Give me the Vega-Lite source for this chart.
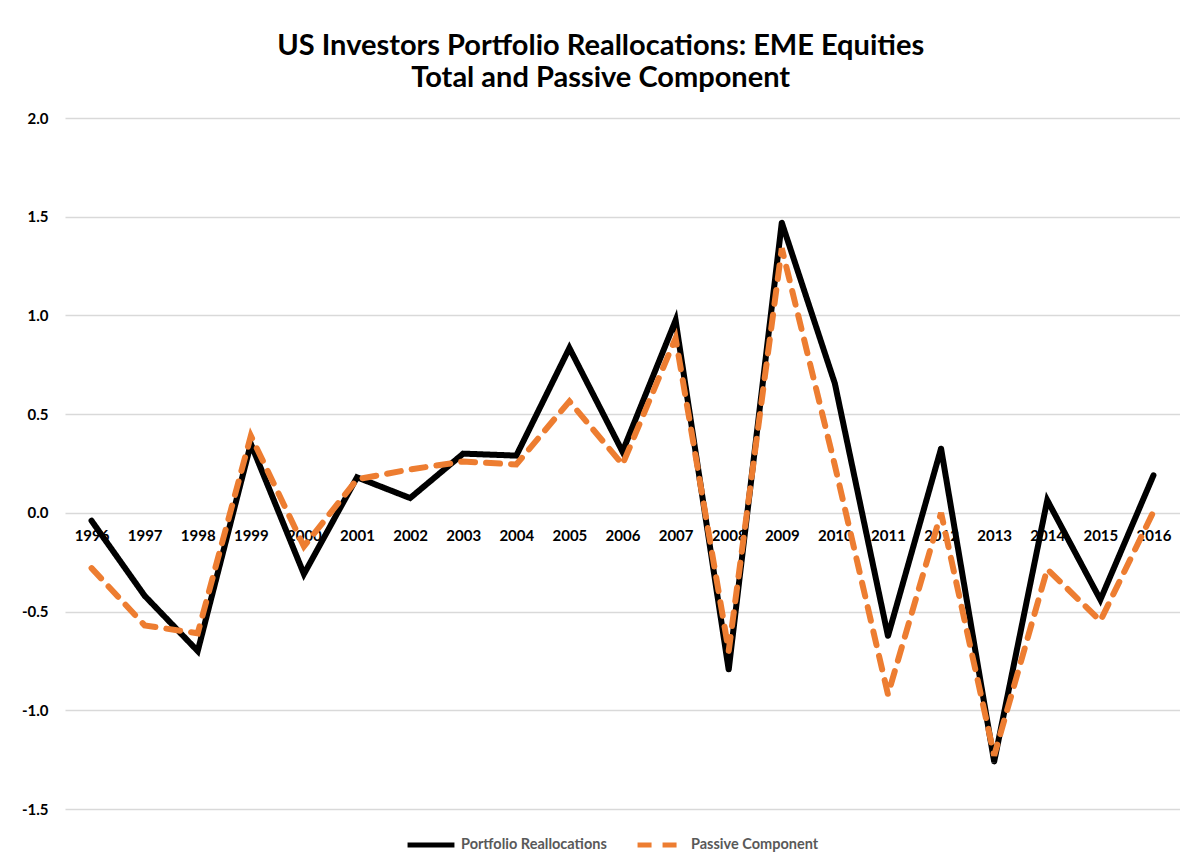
{
  "$schema": "https://vega.github.io/schema/vega-lite/v6.json",
  "width": 1115,
  "height": 691,
  "autosize": {"type": "none"},
  "padding": {"left": 65, "top": 118, "right": 0, "bottom": 57},
  "background": "white",
  "title": {
    "text": ["US Investors Portfolio Reallocations: EME Equities", "Total and Passive Component"],
    "font": "Lato",
    "fontSize": 29,
    "fontWeight": "bold",
    "color": "#000000",
    "anchor": "middle",
    "frame": "bounds",
    "lineHeight": 32,
    "offset": 18
  },
  "data": {
    "values": [
      {"year": "1996", "series": "Portfolio Reallocations", "value": -0.04},
      {"year": "1997", "series": "Portfolio Reallocations", "value": -0.42},
      {"year": "1998", "series": "Portfolio Reallocations", "value": -0.70},
      {"year": "1999", "series": "Portfolio Reallocations", "value": 0.35},
      {"year": "2000", "series": "Portfolio Reallocations", "value": -0.31},
      {"year": "2001", "series": "Portfolio Reallocations", "value": 0.18},
      {"year": "2002", "series": "Portfolio Reallocations", "value": 0.075},
      {"year": "2003", "series": "Portfolio Reallocations", "value": 0.30},
      {"year": "2004", "series": "Portfolio Reallocations", "value": 0.29},
      {"year": "2005", "series": "Portfolio Reallocations", "value": 0.835},
      {"year": "2006", "series": "Portfolio Reallocations", "value": 0.31},
      {"year": "2007", "series": "Portfolio Reallocations", "value": 0.975},
      {"year": "2008", "series": "Portfolio Reallocations", "value": -0.795},
      {"year": "2009", "series": "Portfolio Reallocations", "value": 1.47},
      {"year": "2010", "series": "Portfolio Reallocations", "value": 0.655},
      {"year": "2011", "series": "Portfolio Reallocations", "value": -0.624},
      {"year": "2012", "series": "Portfolio Reallocations", "value": 0.326},
      {"year": "2013", "series": "Portfolio Reallocations", "value": -1.26},
      {"year": "2014", "series": "Portfolio Reallocations", "value": 0.064},
      {"year": "2015", "series": "Portfolio Reallocations", "value": -0.44},
      {"year": "2016", "series": "Portfolio Reallocations", "value": 0.19},
      {"year": "1996", "series": "Passive Component", "value": -0.28},
      {"year": "1997", "series": "Passive Component", "value": -0.57},
      {"year": "1998", "series": "Passive Component", "value": -0.61},
      {"year": "1999", "series": "Passive Component", "value": 0.39},
      {"year": "2000", "series": "Passive Component", "value": -0.17},
      {"year": "2001", "series": "Passive Component", "value": 0.17},
      {"year": "2002", "series": "Passive Component", "value": 0.22},
      {"year": "2003", "series": "Passive Component", "value": 0.26},
      {"year": "2004", "series": "Passive Component", "value": 0.245},
      {"year": "2005", "series": "Passive Component", "value": 0.565},
      {"year": "2006", "series": "Passive Component", "value": 0.245},
      {"year": "2007", "series": "Passive Component", "value": 0.885},
      {"year": "2008", "series": "Passive Component", "value": -0.70},
      {"year": "2009", "series": "Passive Component", "value": 1.34},
      {"year": "2010", "series": "Passive Component", "value": 0.24},
      {"year": "2011", "series": "Passive Component", "value": -0.92},
      {"year": "2012", "series": "Passive Component", "value": 0.0},
      {"year": "2013", "series": "Passive Component", "value": -1.23},
      {"year": "2014", "series": "Passive Component", "value": -0.285},
      {"year": "2015", "series": "Passive Component", "value": -0.547},
      {"year": "2016", "series": "Passive Component", "value": 0.006}
    ]
  },
  "mark": {"type": "line", "strokeWidth": 6, "strokeCap": "round", "strokeJoin": "miter"},
  "encoding": {
    "x": {
      "field": "year",
      "type": "ordinal",
      "scale": {"type": "point", "padding": 0.5},
      "axis": {
        "title": null,
        "offset": -296,
        "domain": false,
        "ticks": false,
        "grid": false,
        "labelAngle": 0,
        "labelPadding": 15,
        "labelFont": "Lato",
        "labelFontSize": 15,
        "labelFontWeight": "bold",
        "labelColor": "#000000",
        "labelOverlap": false,
        "zindex": 0
      }
    },
    "y": {
      "field": "value",
      "type": "quantitative",
      "scale": {"domain": [-1.5, 2.0], "nice": false, "zero": false},
      "axis": {
        "title": null,
        "values": [-1.5, -1.0, -0.5, 0.0, 0.5, 1.0, 1.5, 2.0],
        "labelExpr": "replace(format(datum.value, '.1f'), '\u2212', '-')",
        "domain": false,
        "ticks": false,
        "grid": true,
        "gridColor": "#d9d9d9",
        "gridWidth": 1.3,
        "labelPadding": 17,
        "labelFont": "Lato",
        "labelFontSize": 15,
        "labelFontWeight": "bold",
        "labelColor": "#000000",
        "zindex": 0
      }
    },
    "color": {
      "field": "series",
      "type": "nominal",
      "sort": ["Portfolio Reallocations", "Passive Component"],
      "scale": {"domain": ["Portfolio Reallocations", "Passive Component"], "range": ["#000000", "#ED7D31"]},
      "legend": {
        "title": null,
        "orient": "none",
        "legendX": 340,
        "legendY": 701,
        "direction": "horizontal",
        "symbolType": "stroke",
        "symbolSize": 2200,
        "symbolStrokeWidth": 5,
        "labelFont": "Lato",
        "labelFontSize": 14.5,
        "labelFontWeight": "bold",
        "labelColor": "#595959",
        "labelOffset": 4,
        "columnPadding": 20
      }
    },
    "strokeDash": {
      "field": "series",
      "type": "nominal",
      "sort": ["Portfolio Reallocations", "Passive Component"],
      "scale": {"domain": ["Portfolio Reallocations", "Passive Component"], "range": [[1, 0], [14, 11]]},
      "legend": {
        "title": null,
        "orient": "none",
        "legendX": 340,
        "legendY": 701,
        "direction": "horizontal",
        "symbolType": "stroke",
        "symbolSize": 2200,
        "symbolStrokeWidth": 5,
        "labelFont": "Lato",
        "labelFontSize": 14.5,
        "labelFontWeight": "bold",
        "labelColor": "#595959",
        "labelOffset": 4,
        "columnPadding": 20
      }
    }
  },
  "config": {
    "view": {"stroke": null}
  }
}
